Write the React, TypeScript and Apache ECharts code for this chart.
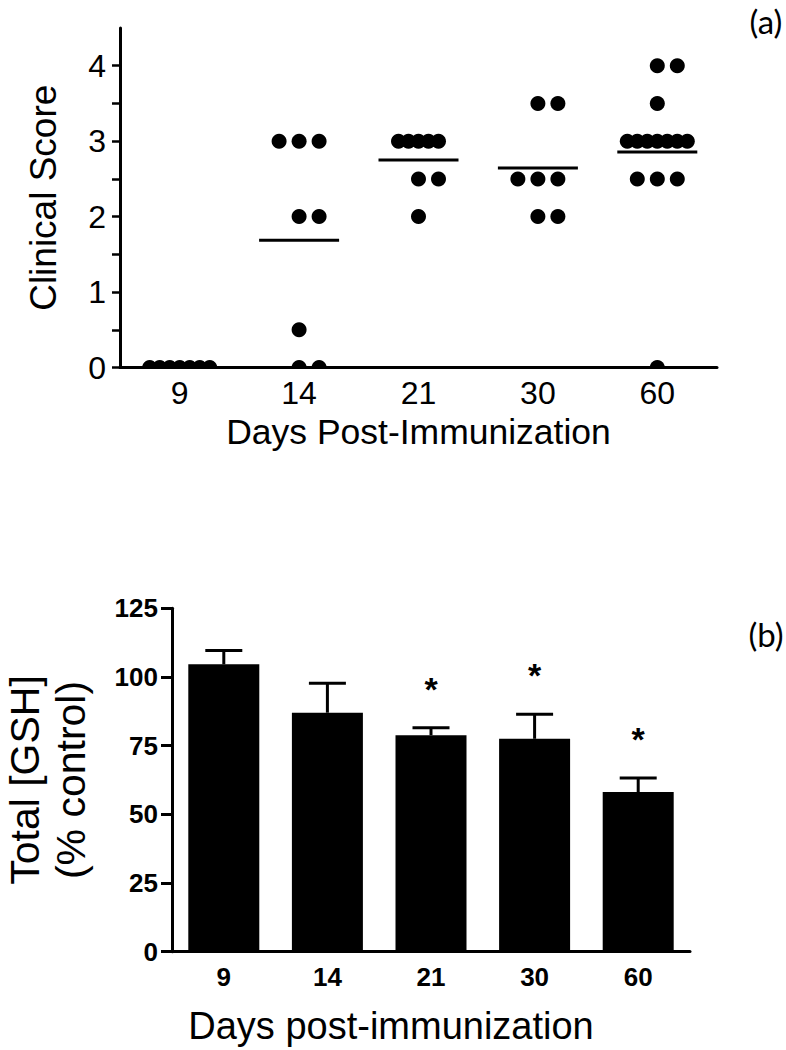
import React, { useEffect, useRef } from "react";
import * as echarts from "echarts";

// ---------- data ----------
const categories = ["9", "14", "21", "30", "60"];

// panel (a): clinical scores per animal
const day9Scores = [0, 0, 0, 0, 0, 0, 0];
const day14Scores = [3, 3, 3, 2, 2, 0.5, 0, 0];
const day21Scores = [3, 3, 3, 3, 3, 2.5, 2.5, 2];
const day30Scores = [3.5, 3.5, 2.5, 2.5, 2.5, 2, 2];
const day60Scores = [4, 4, 3.5, 3, 3, 3, 3, 3, 3, 3, 2.5, 2.5, 2.5, 0];
const scoreTickValues = [0, 0.5, 1, 1.5, 2, 2.5, 3, 3.5, 4];
const scoreLabelValues = [0, 1, 2, 3, 4];

// panel (b): total GSH (% control)
const gshMean = [104.6, 87.0, 78.8, 77.5, 58.1];
const gshUpper = [109.6, 97.7, 81.5, 86.4, 63.2];
const gshSignificant = [0, 0, 1, 1, 1];
const gshTickValues = [0, 25, 50, 75, 100, 125];

const FONT = "'Liberation Sans', Arial, sans-serif";
const NARROW = "'Liberation Sans Narrow', 'Arial Narrow', 'Liberation Sans', sans-serif";

export default function App() {
  const ref = useRef<HTMLDivElement>(null);

  useEffect(() => {
    if (!ref.current) return;
    const chart = echarts.init(ref.current, undefined, { renderer: "svg" });

    const groups = [day9Scores, day14Scores, day21Scores, day30Scores, day60Scores];
    const dotData: number[][] = [];
    const meanData: number[][] = [];
    groups.forEach((arr, gi) => {
      const counts = new Map<number, number>();
      arr.forEach((v) => counts.set(v, (counts.get(v) || 0) + 1));
      counts.forEach((n, v) => {
        for (let i = 0; i < n; i++) {
          const off = n <= 3 ? (i - Math.floor((n - 1) / 2)) * 20 : (i - (n - 1) / 2) * 10;
          dotData.push([gi, v, off]);
        }
      });
      const mean = arr.reduce((a, b) => a + b, 0) / arr.length;
      meanData.push([gi, mean]);
    });

    const errData = gshMean.map((m, i) => [i, m, gshUpper[i], gshSignificant[i]]);

    const axisLineStyle = { color: "#000", width: 3 };

    chart.setOption({
      animation: false,
      backgroundColor: "#fff",
      grid: [
        { left: 120, top: 28, width: 597, height: 339.5, containLabel: false, outerBoundsMode: "none" },
        { left: 172, top: 608.3, width: 518, height: 343.4, containLabel: false, outerBoundsMode: "none" },
      ],
      xAxis: [
        {
          type: "category",
          gridIndex: 0,
          data: categories,
          boundaryGap: true,
          axisLine: { lineStyle: axisLineStyle },
          axisTick: { alignWithLabel: true, length: 9, lineStyle: { color: "#000", width: 2.5 } },
          axisLabel: { color: "#000", fontSize: 32, fontFamily: NARROW, margin: 9 },
          name: "Days Post-Immunization",
          nameLocation: "middle",
          nameGap: 46,
          nameTextStyle: { color: "#000", fontSize: 35.5, fontFamily: FONT },
        },
        {
          type: "category",
          gridIndex: 1,
          data: categories,
          boundaryGap: true,
          axisLine: { lineStyle: axisLineStyle },
          axisTick: { alignWithLabel: true, length: 10, lineStyle: { color: "#000", width: 3 } },
          axisLabel: { color: "#000", fontSize: 26, fontWeight: "bold", fontFamily: NARROW, margin: 12 },
          name: "Days post-immunization",
          nameLocation: "middle",
          nameGap: 55,
          nameTextStyle: { color: "#000", fontSize: 38, fontFamily: FONT, padding: [0, 80, 0, 0] },
        },
      ],
      yAxis: [
        {
          type: "value",
          gridIndex: 0,
          min: 0,
          max: 4.5,
          interval: 0.5,
          splitLine: { show: false },
          axisLine: { show: true, lineStyle: axisLineStyle },
          axisTick: { show: true, length: 8, customValues: scoreTickValues, lineStyle: { color: "#000", width: 2.5 } },
          axisLabel: {
            color: "#000",
            fontSize: 32,
            fontFamily: NARROW,
            margin: 14,
            customValues: scoreLabelValues,
            formatter: (v: number) => (Number.isInteger(v) && v <= 4 ? String(v) : ""),
          },
          name: "Clinical Score",
          nameLocation: "middle",
          nameGap: 58,
          nameTextStyle: { color: "#000", fontSize: 37, fontFamily: FONT },
        },
        {
          type: "value",
          gridIndex: 1,
          min: 0,
          max: 125,
          interval: 25,
          splitLine: { show: false },
          axisLine: { show: true, lineStyle: axisLineStyle },
          axisTick: { show: true, length: 11, customValues: gshTickValues, lineStyle: { color: "#000", width: 3 } },
          axisLabel: { color: "#000", fontSize: 26, fontWeight: "bold", fontFamily: NARROW, margin: 14, customValues: gshTickValues },
          name: "Total [GSH]\n(% control)",
          nameLocation: "middle",
          nameGap: 78,
          nameTextStyle: { color: "#000", fontSize: 41, lineHeight: 46, fontFamily: FONT },
        },
      ],
      series: [
        {
          type: "custom",
          name: "scores",
          xAxisIndex: 0,
          yAxisIndex: 0,
          clip: true,
          data: dotData,
          encode: { x: 0, y: 1 },
          renderItem: (params: any, api: any) => {
            const p = api.coord([api.value(0), api.value(1)]);
            return {
              type: "circle",
              shape: { cx: p[0] + api.value(2), cy: p[1], r: 7.5 },
              style: { fill: "#000" },
            };
          },
        },
        {
          type: "custom",
          name: "mean",
          xAxisIndex: 0,
          yAxisIndex: 0,
          clip: true,
          data: meanData,
          encode: { x: 0, y: 1 },
          renderItem: (params: any, api: any) => {
            const p = api.coord([api.value(0), api.value(1)]);
            return {
              type: "line",
              shape: { x1: p[0] - 40, y1: p[1], x2: p[0] + 40, y2: p[1] },
              style: { stroke: "#000", lineWidth: 3 },
            };
          },
        },
        {
          type: "bar",
          name: "Total GSH",
          xAxisIndex: 1,
          yAxisIndex: 1,
          data: gshMean,
          barWidth: 71,
          itemStyle: { color: "#000" },
        },
        {
          type: "custom",
          name: "error",
          xAxisIndex: 1,
          yAxisIndex: 1,
          z: 3,
          data: errData,
          encode: { x: 0, y: 2 },
          renderItem: (params: any, api: any) => {
            const i = api.value(0);
            const p0 = api.coord([i, api.value(1)]);
            const p1 = api.coord([i, api.value(2)]);
            const children: any[] = [
              { type: "line", shape: { x1: p0[0], y1: p0[1], x2: p1[0], y2: p1[1] }, style: { stroke: "#000", lineWidth: 3 } },
              { type: "line", shape: { x1: p1[0] - 18.5, y1: p1[1], x2: p1[0] + 18.5, y2: p1[1] }, style: { stroke: "#000", lineWidth: 3 } },
            ];
            if (api.value(3)) {
              children.push({
                type: "text",
                x: p1[0],
                y: p1[1] - 39,
                style: { text: "*", fill: "#000", fontSize: 34, fontWeight: "bold", fontFamily: FONT, align: "center", verticalAlign: "middle" },
              });
            }
            return { type: "group", children };
          },
        },
      ],
      graphic: [
        { type: "text", x: 766, y: 21, style: { text: "(a)", fill: "#000", fontSize: 33, fontFamily: "Lato, 'Open Sans', sans-serif", align: "center", verticalAlign: "middle" } },
        { type: "text", x: 766, y: 634, style: { text: "(b)", fill: "#000", fontSize: 33, fontFamily: "Lato, 'Open Sans', sans-serif", align: "center", verticalAlign: "middle" } },
      ],
    });

    return () => chart.dispose();
  }, []);

  return <div ref={ref} style={{ position: "absolute", left: 0, top: 0, width: 786, height: 1050 }} />;
}
